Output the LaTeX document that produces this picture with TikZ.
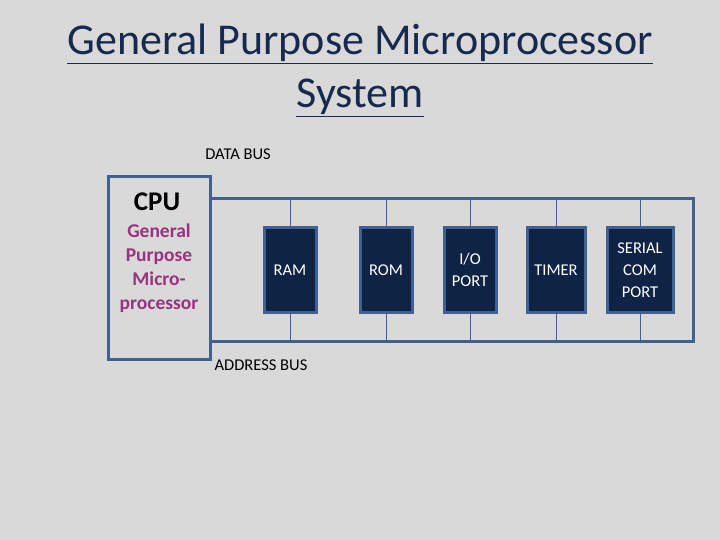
\documentclass[tikz,border=0pt]{standalone}
\usepackage{fontspec}
\setmainfont{Carlito}
\definecolor{bg}{HTML}{D9D9D9}
\definecolor{bord}{HTML}{41608F}
\definecolor{navy}{HTML}{0F2445}
\definecolor{ttl}{HTML}{17294D}
\definecolor{purp}{HTML}{993380}
\begin{document}
\begin{tikzpicture}[x=1pt,y=-1pt,
  dev/.style={draw=bord,line width=3pt,fill=navy,text=white,font=\fontsize{16.5}{22}\selectfont,align=center,inner sep=0pt},
  bus/.style={draw=bord,line width=3pt},
  stub/.style={draw=bord,line width=1pt},
  lbl/.style={font=\fontsize{16.5}{20}\selectfont,text=black}]
\fill[bg] (0,0) rectangle (720,540);
\node[text=ttl,font=\fontsize{44}{53}\selectfont,align=center] (title) at (360,70)
  {\underline{General Purpose Microprocessor}\\\underline{System}};
\draw[bus,fill=bg] (108,177) rectangle (210,359);
\node[font=\fontsize{27}{30}\selectfont\bfseries] (cpu) at (157,202) {CPU};
\node[font=\fontsize{19.5}{24}\selectfont\bfseries,text=purp,align=center] (gp) at (159,268) {General\\Purpose\\Micro-\\processor};
\coordinate (t0) at (210,199); \coordinate (t1) at (693,199);
\coordinate (b0) at (210,341); \coordinate (b1) at (693,341);
\draw[bus] (t0) -- (t1) -- (b1) -- (b0);
\node[dev,minimum width=52,minimum height=84] (ram) at (290,270) {RAM};
\node[dev,minimum width=52,minimum height=84] (rom) at (386,270) {ROM};
\node[dev,minimum width=52,minimum height=84] (io) at (470,270) {I/O\\PORT};
\node[dev,minimum width=58,minimum height=84] (tim) at (556,270) {TIMER};
\node[dev,minimum width=66,minimum height=84] (ser) at (640,270) {SERIAL\\COM\\PORT};
\foreach \n in {ram,rom,io,tim,ser}{
  \draw[stub] (\n.north) -- (\n.north |- t0);
  \draw[stub] (\n.south) -- (\n.south |- b0);
}
\node[lbl] (db) at (238,154) {DATA BUS};
\node[lbl] (ab) at (261,365) {ADDRESS BUS};
\end{tikzpicture}
\end{document}
